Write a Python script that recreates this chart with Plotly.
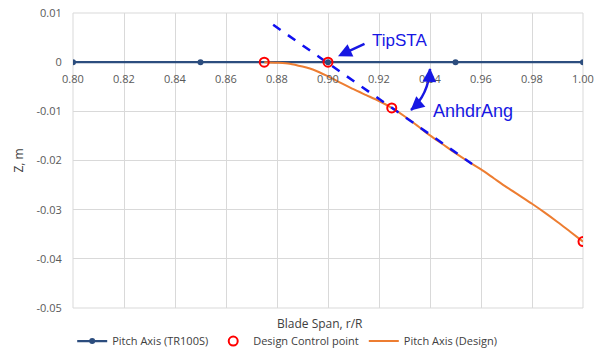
import plotly.graph_objects as go

# Reference pitch axis (TR100S) stations
tr100s_span = [0.80, 0.85, 0.90, 0.95, 1.00]
tr100s_z = [0.0, 0.0, 0.0, 0.0, 0.0]

# Design control points
ctrl_span = [0.875, 0.90, 0.925, 1.00]
ctrl_z = [0.0, 0.0, -0.0093, -0.0365]

# Designed pitch axis
design_span = [0.875, 0.880, 0.885, 0.890, 0.895, 0.900, 0.905, 0.910, 0.915,
               0.920, 0.925, 0.930, 0.935, 0.940, 0.945, 0.950, 0.955, 0.960,
               0.965, 0.970, 0.975, 0.980, 0.985, 0.990, 0.995, 1.000]
design_z = [0.0, -0.0001, -0.0003, -0.0009, -0.0017, -0.0029, -0.0042, -0.0055, -0.0067,
            -0.0079, -0.0093, -0.0110, -0.0129, -0.0149, -0.0167, -0.0185, -0.0202, -0.0218,
            -0.0236, -0.0254, -0.0271, -0.0288, -0.0306, -0.0325, -0.0345, -0.0365]

# Anhedral tangent line through the tip station
tangent_span = [0.8785, 0.9565]
tangent_z = [0.0076, -0.0207]

x_ticks = [0.80, 0.82, 0.84, 0.86, 0.88, 0.90, 0.92, 0.94, 0.96, 0.98, 1.00]
x_ticktext = ["0.80", "0.82", "0.84", "0.86", "0.88", "0.90", "0.92", "0.94", "0.96", "0.98", "1.00"]
y_ticks = [0.01, 0.0, -0.01, -0.02, -0.03, -0.04, -0.05]
y_ticktext = ["0.01", "0", "-0.01", "-0.02", "-0.03", "-0.04", "-0.05"]

BLUE_NOTE = "#1717E3"
GRID = "#D9D9D9"
NO_TICK = "rgba(0,0,0,0)"
TICK_FONT = dict(family="Open Sans", size=11, color="#595959")

fig = go.Figure()

fig.add_trace(go.Scatter(
    x=tr100s_span, y=tr100s_z, mode="lines+markers", name="Pitch Axis (TR100S)",
    line=dict(color="#2C4D7E", width=2.2),
    marker=dict(color="#2C4D7E", size=6, symbol="circle"),
    legendrank=1,
))
fig.add_trace(go.Scatter(
    x=design_span, y=design_z, mode="lines", name="Pitch Axis (Design)",
    line=dict(color="#ED7D31", width=2, shape="spline", smoothing=0.8),
    legendrank=3,
))
fig.add_trace(go.Scatter(
    x=tangent_span, y=tangent_z, mode="lines", showlegend=False,
    line=dict(color="#1010F0", width=2.5, dash="dash"),
))
fig.add_trace(go.Scatter(
    x=ctrl_span, y=ctrl_z, mode="markers", name="Design Control point",
    marker=dict(symbol="circle-open", size=9, color="#FF0000", line=dict(width=2, color="#FF0000")),
    legendrank=2,
))

# Span tick labels sit just under the Z = 0 line
for xv, lab in zip(x_ticks, x_ticktext):
    fig.add_annotation(x=xv, y=0, xref="x", yref="y", text=lab, showarrow=False,
                       yanchor="middle", yshift=-16, font=TICK_FONT)

# Curved double-headed arrow marking the anhedral angle
fig.add_shape(
    type="path", xref="x", yref="y",
    path="M 0.9400,-0.0014 Q 0.93941,-0.00659 0.93255,-0.00974",
    line=dict(color=BLUE_NOTE, width=2.5),
)
for (hx, hy, tx, ty) in [(0.9400, -0.0012, -0.5, 10), (0.93235, -0.00985, 7.5, -6.6)]:
    fig.add_annotation(x=hx, y=hy, ax=tx, ay=ty, text="", showarrow=True,
                       arrowhead=2, arrowsize=1.1, arrowwidth=2.5, arrowcolor=BLUE_NOTE)

# TipSTA label and its arrow
fig.add_annotation(x=0.90392, y=0.00122, ax=28, ay=-13, text="", showarrow=True,
                   arrowhead=2, arrowsize=1.1, arrowwidth=2.5, arrowcolor=BLUE_NOTE)
fig.add_annotation(x=0.9282, y=0.0045, text="TipSTA", showarrow=False,
                   font=dict(family="Liberation Sans", size=17, color=BLUE_NOTE))
fig.add_annotation(x=0.9569, y=-0.0099, text="AnhdrAng", showarrow=False,
                   font=dict(family="Liberation Sans", size=18, color=BLUE_NOTE))

# Horizontal axis title at the bottom of the plot area
fig.add_annotation(xref="paper", yref="paper", x=0.485, y=-0.051, yanchor="middle",
                   text="Blade Span, r/R", showarrow=False,
                   font=dict(family="Open Sans", size=12, color="#404040"))

# Plot-area frame
fig.add_shape(type="rect", xref="paper", yref="paper", x0=0, x1=1, y0=0, y1=1,
              line=dict(color=GRID, width=1), layer="below")

fig.update_layout(
    width=602, height=355,
    margin=dict(l=73, r=19, t=13, b=47, autoexpand=False),
    paper_bgcolor="white", plot_bgcolor="white",
    font=dict(family="Open Sans", size=11, color="#595959"),
    xaxis=dict(
        range=[0.80, 1.00], tickvals=x_ticks, showticklabels=False,
        showgrid=True, gridcolor=GRID, gridwidth=1, zeroline=False, showline=False,
        ticks="",
    ),
    yaxis=dict(
        range=[-0.05, 0.01], tickvals=y_ticks, ticktext=y_ticktext,
        showgrid=True, gridcolor=GRID, gridwidth=1, zeroline=False, showline=False,
        ticks="outside", ticklen=8, tickcolor=NO_TICK, tickfont=TICK_FONT,
        title=dict(text="Z, m", font=dict(family="Open Sans", size=12, color="#404040"), standoff=10),
    ),
    legend=dict(orientation="h", x=0.42, xanchor="center", y=-0.112, yanchor="middle",
                font=dict(family="Open Sans", size=11, color="#404040"),
                bgcolor="rgba(0,0,0,0)", itemwidth=30, tracegroupgap=0),
    showlegend=True,
)

fig.write_html("out.html")
